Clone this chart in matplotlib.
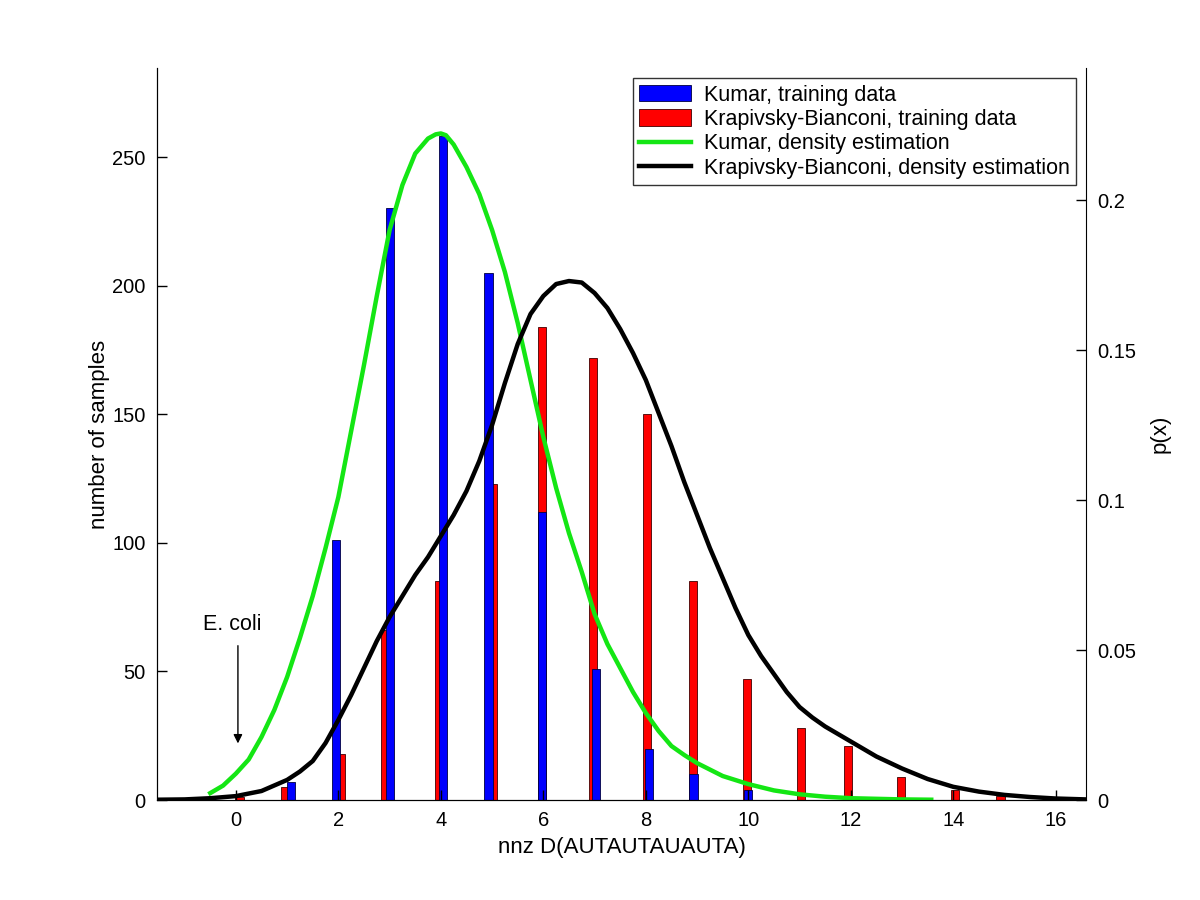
import matplotlib
matplotlib.use('Agg')
import matplotlib.pyplot as plt
import numpy as np

plt.rcParams['font.family'] = ['Liberation Sans', 'DejaVu Sans']

# histogram bars (counts), positions
kumar_x = [1.07, 1.96, 3.0, 4.04, 4.93, 5.98, 7.03, 8.06, 8.93, 9.99]
kumar_n = [7, 101, 230, 258, 205, 112, 51, 20, 10, 4]
kb_x = [0.07, 0.97, 2.04, 2.92, 3.97, 5.02, 5.97, 6.97, 8.02, 8.92,
        9.98, 11.03, 11.94, 12.98, 14.03, 14.92]
kb_n = [1, 5, 18, 66, 85, 123, 184, 172, 150, 85, 47, 28, 21, 9, 4, 1.5]

# density estimates p(x)
kumar_px = [-0.5, -0.25, 0.0, 0.25, 0.5, 0.75, 1.0, 1.25, 1.5, 1.75, 2.0,
            2.25, 2.5, 2.75, 3.0, 3.25, 3.5, 3.75, 3.9, 4.0, 4.1, 4.25,
            4.5, 4.75, 5.0, 5.25, 5.5, 5.75, 6.0, 6.25, 6.5, 6.75, 7.0,
            7.25, 7.5, 7.75, 8.0, 8.25, 8.5, 8.75, 9.0, 9.5, 10.0, 10.5,
            11.0, 11.5, 12.0, 12.5, 13.0, 13.57]
kumar_p = [0.0023, 0.0048, 0.0088, 0.0135, 0.021, 0.030, 0.041, 0.054,
           0.068, 0.084, 0.101, 0.123, 0.145, 0.168, 0.19, 0.205, 0.2155,
           0.2205, 0.2219, 0.2222, 0.2216, 0.2185, 0.211, 0.202, 0.19,
           0.176, 0.159, 0.14, 0.121, 0.104, 0.089, 0.076, 0.062, 0.052,
           0.044, 0.036, 0.029, 0.023, 0.018, 0.015, 0.0123, 0.008, 0.0053,
           0.0032, 0.0019, 0.0011, 0.0006, 0.0004, 0.0002, 0.0001]

kb_px = [-1.54, -1.0, -0.5, 0.0, 0.5, 1.0, 1.25, 1.5, 1.75, 2.0, 2.25, 2.5,
         2.75, 3.0, 3.25, 3.5, 3.75, 4.0, 4.25, 4.5, 4.75, 5.0, 5.25, 5.5,
         5.75, 6.0, 6.25, 6.5, 6.75, 7.0, 7.25, 7.5, 7.75, 8.0, 8.25, 8.5,
         8.75, 9.0, 9.25, 9.5, 9.75, 10.0, 10.25, 10.5, 10.75, 11.0, 11.25,
         11.5, 11.75, 12.0, 12.5, 13.0, 13.5, 14.0, 14.5, 15.0, 15.5, 16.0,
         16.59]
kb_p = [0.0001, 0.0002, 0.0006, 0.0013, 0.003, 0.0067, 0.0095, 0.013, 0.019,
        0.0267, 0.035, 0.044, 0.053, 0.061, 0.068, 0.075, 0.081, 0.088,
        0.095, 0.103, 0.113, 0.125, 0.139, 0.152, 0.162, 0.168, 0.172,
        0.173, 0.1725, 0.169, 0.164, 0.157, 0.149, 0.14, 0.129, 0.118,
        0.106, 0.095, 0.084, 0.074, 0.064, 0.055, 0.048, 0.042, 0.036,
        0.031, 0.0275, 0.0245, 0.022, 0.0195, 0.0145, 0.0105, 0.007,
        0.0044, 0.0028, 0.0017, 0.001, 0.0005, 0.0002]

fig = plt.figure(figsize=(12, 9), dpi=100)
ax = fig.add_axes([0.1308, 0.1111, 0.7742, 0.8133])
ax2 = ax.twinx()

b2 = ax.bar(kb_x, kb_n, width=0.16, color='red', edgecolor='#400000', linewidth=0.6,
            label='Krapivsky-Bianconi, training data')
b1 = ax.bar(kumar_x, kumar_n, width=0.16, color='blue', edgecolor='#000040', linewidth=0.6,
            label='Kumar, training data')

l1, = ax2.plot(kumar_px, kumar_p, color='#14e614', lw=3.2,
               solid_joinstyle='round', label='Kumar, density estimation')
l2, = ax2.plot(kb_px, kb_p, color='black', lw=3.2,
               solid_joinstyle='round', label='Krapivsky-Bianconi, density estimation')

ax.set_xlim(-1.54, 16.59)
ax.set_ylim(0, 284.6)
ax2.set_ylim(0, 0.244)
ax.set_xticks(range(0, 17, 2))
ax.set_yticks([0, 50, 100, 150, 200, 250])
ax2.set_yticks([0, 0.05, 0.1, 0.15, 0.2])
ax2.set_yticklabels(['0', '0.05', '0.1', '0.15', '0.2'])

for a in (ax, ax2):
    a.spines['top'].set_visible(False)
    a.tick_params(direction='in', length=7, width=1, labelsize=14.5, pad=8)
ax.spines['right'].set_visible(False)

ax.set_xlabel('nnz D(AUTAUTAUAUTA)', fontsize=16, labelpad=5)
ax.set_ylabel('number of samples', fontsize=16, labelpad=2)
ax2.set_ylabel('p(x)', fontsize=16, labelpad=10)

# E. coli marker
ax.text(-0.08, 64, 'E. coli', ha='center', va='bottom', fontsize=15.5)
ax.annotate('', xy=(0.04, 22), xytext=(0.04, 60),
            arrowprops=dict(arrowstyle='-|>', color='black', lw=1,
                            mutation_scale=13, shrinkA=0, shrinkB=0))

leg = ax2.legend([b1, b2, l1, l2],
                 [b1.get_label(), b2.get_label(), l1.get_label(), l2.get_label()],
                 loc='upper right', bbox_to_anchor=(0.9892, 0.9863), fontsize=15.5,
                 frameon=True, fancybox=False, edgecolor='black',
                 borderpad=0.3, labelspacing=0.16, handlelength=2.4,
                 handleheight=0.8, handletextpad=0.6, borderaxespad=0.0)
leg.get_frame().set_linewidth(1)

fig.savefig('out.png', dpi=100)
